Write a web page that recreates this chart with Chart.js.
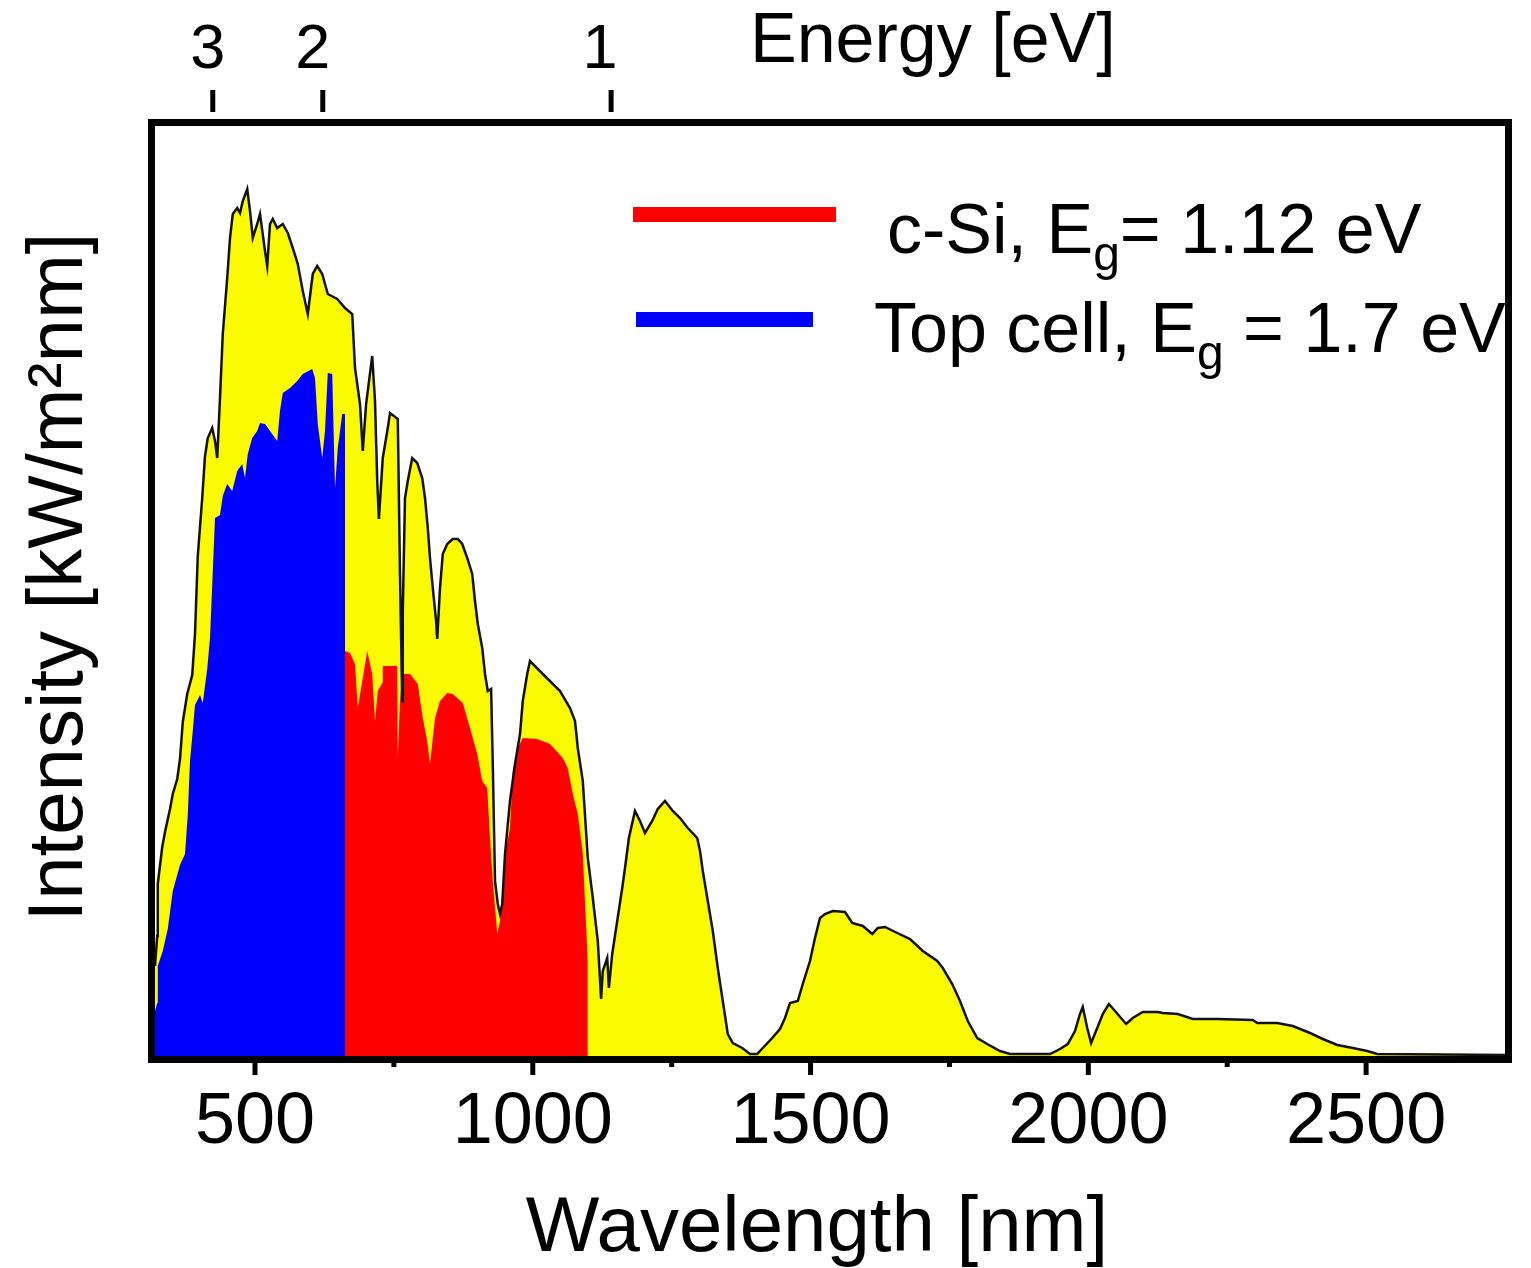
<!DOCTYPE html>
<html lang="en">
<head>
  <meta charset="UTF-8" />
  <title>Solar spectrum: c-Si and top cell</title>
  <script src="https://cdn.jsdelivr.net/npm/chart.js"></script>
  <style>
    body { margin: 0; background: #fff; }
    #wrap { position: relative; width: 1531px; height: 1268px; font-family: 'Liberation Sans', Arial, sans-serif; }
    .key { position: absolute; height: 15px; }
    .lbl { position: absolute; font-size: 70px; line-height: 1; color: #000; white-space: nowrap; }
    .lbl sub { font-size: 48px; vertical-align: -17px; line-height: 0; }
  </style>
</head>
<body>
  <div id="wrap">
    <canvas id="chart" width="1531" height="1268"></canvas>
    <div class="key" style="left:633px; top:207px; width:203px; background:#ff0000;"></div>
    <div class="lbl" style="left:887px; top:194px;">c-Si, E<sub>g</sub>= 1.12 eV</div>
    <div class="key" style="left:636px; top:312px; width:177px; background:#0000ff;"></div>
    <div class="lbl" style="left:874px; top:293px;">Top cell, E<sub>g</sub> = 1.7 eV</div>
  </div>

  <script>
    // full spectrum (yellow), wavelength in nm
    const yellowNm = [320, 324, 325, 333, 338, 347, 352, 360, 365,
      370, 378, 387, 392, 397, 405, 410, 415, 423, 428,
      432, 437, 442, 450, 455, 460, 468, 473, 478, 486,
      491, 496, 504, 509, 518, 522, 527, 532, 540, 550,
      559, 568, 577, 586, 595, 604, 612, 621, 631, 648,
      662, 675, 680, 689, 694, 700, 711, 716, 720, 723,
      730, 739, 743, 757, 761, 765, 766, 770, 775, 783,
      792, 801, 806, 811, 815, 820, 826, 828, 833, 838,
      846, 856, 865, 873, 882, 891, 896, 901, 909, 914,
      919, 925, 928, 932, 937, 941, 945, 950, 959, 968,
      977, 982, 990, 995, 1018, 1049, 1067, 1076, 1081, 1090,
      1099, 1108, 1117, 1123, 1126, 1134, 1137, 1143, 1152, 1161,
      1166, 1173, 1184, 1193, 1202, 1215, 1225, 1238, 1252, 1265,
      1279, 1296, 1301, 1306, 1315, 1324, 1333, 1342, 1351, 1360,
      1377, 1391, 1404, 1414, 1431, 1445, 1454, 1463, 1477, 1486,
      1499, 1508, 1517, 1526, 1540, 1562, 1575, 1594, 1611, 1621,
      1634, 1656, 1679, 1702, 1728, 1738, 1755, 1769, 1783, 1800,
      1818, 1841, 1859, 1931, 1949, 1963, 1976, 1985, 1990, 1998,
      2005, 2016, 2026, 2037, 2048, 2068, 2080, 2098, 2125, 2134,
      2161, 2188, 2232, 2296, 2304, 2340, 2368, 2399, 2422, 2448,
      2476, 2502, 2520, 2750];
    const yellowVal = [0.18, 0.24, 0.344, 0.418, 0.448, 0.494, 0.524, 0.554, 0.594,
      0.668, 0.724, 0.762, 0.844, 1.0, 1.116, 1.2, 1.236, 1.256, 1.23,
      1.196, 1.316, 1.444, 1.556, 1.636, 1.684, 1.696, 1.686, 1.71, 1.734,
      1.69, 1.636, 1.664, 1.684, 1.61, 1.58, 1.664, 1.674, 1.656, 1.664,
      1.646, 1.616, 1.584, 1.53, 1.484, 1.564, 1.58, 1.564, 1.524, 1.514,
      1.496, 1.484, 1.376, 1.304, 1.21, 1.304, 1.4, 1.31, 1.15, 1.074,
      1.196, 1.256, 1.286, 1.274, 0.964, 0.71, 0.89, 1.116, 1.15, 1.196,
      1.186, 1.156, 1.116, 1.056, 0.996, 0.936, 0.87, 0.834, 0.936, 1.004,
      1.024, 1.034, 1.034, 1.024, 0.996, 0.964, 0.91, 0.864, 0.816, 0.764,
      0.73, 0.734, 0.584, 0.35, 0.304, 0.284, 0.304, 0.404, 0.51, 0.584,
      0.644, 0.71, 0.764, 0.79, 0.764, 0.73, 0.696, 0.67, 0.616, 0.55,
      0.396, 0.316, 0.23, 0.114, 0.17, 0.196, 0.136, 0.204, 0.27, 0.336,
      0.376, 0.436, 0.49, 0.47, 0.446, 0.47, 0.494, 0.51, 0.49, 0.476,
      0.456, 0.436, 0.41, 0.37, 0.31, 0.25, 0.176, 0.11, 0.044, 0.026,
      0.016, 0.004, 0.004, 0.016, 0.036, 0.054, 0.076, 0.106, 0.11, 0.144,
      0.19, 0.236, 0.276, 0.284, 0.29, 0.288, 0.266, 0.26, 0.244, 0.256,
      0.258, 0.246, 0.234, 0.21, 0.19, 0.176, 0.144, 0.11, 0.07, 0.036,
      0.024, 0.01, 0.004, 0.004, 0.014, 0.024, 0.05, 0.084, 0.098, 0.056,
      0.026, 0.056, 0.084, 0.104, 0.09, 0.064, 0.076, 0.088, 0.088, 0.086,
      0.084, 0.074, 0.074, 0.072, 0.066, 0.066, 0.06, 0.046, 0.034, 0.022,
      0.016, 0.01, 0.004, 0.002];

    // part used by the top cell (blue)
    const blueNm = [320, 324, 325, 334, 343, 352, 365, 374, 379,
      383, 388, 392, 401, 406, 414, 419, 423, 428, 437,
      442, 450, 459, 468, 477, 482, 487, 495, 504, 509,
      518, 531, 540, 545, 550, 563, 576, 586, 603, 608,
      613, 621, 626, 631, 639, 644, 649, 657, 662];
    const blueVal = [0.09, 0.106, 0.18, 0.21, 0.254, 0.33, 0.382, 0.404, 0.482,
      0.59, 0.65, 0.702, 0.722, 0.706, 0.774, 0.836, 0.942, 1.076, 1.082,
      1.12, 1.144, 1.13, 1.17, 1.184, 1.156, 1.204, 1.236, 1.25, 1.266,
      1.264, 1.244, 1.23, 1.29, 1.326, 1.336, 1.35, 1.364, 1.374, 1.356,
      1.264, 1.196, 1.25, 1.366, 1.364, 1.136, 1.216, 1.284, 1.284];

    // part used by c-Si (red)
    const redNm = [662, 671, 680, 685, 693, 702, 711, 716, 721, 729,
      730, 756, 757, 761, 765, 779, 793, 802, 810, 815,
      824, 833, 846, 856, 874, 887, 900, 909, 918, 923,
      928, 936, 941, 950, 959, 964, 973, 982, 1008, 1031,
      1054, 1063, 1072, 1081, 1090, 1099];
    const redVal = [0.81, 0.806, 0.784, 0.696, 0.75, 0.81, 0.764, 0.67, 0.73, 0.746,
      0.78, 0.78, 0.596, 0.71, 0.764, 0.764, 0.744, 0.676, 0.63, 0.584,
      0.676, 0.71, 0.726, 0.724, 0.706, 0.656, 0.604, 0.55, 0.536, 0.436,
      0.35, 0.244, 0.27, 0.404, 0.456, 0.57, 0.616, 0.636, 0.634, 0.624,
      0.596, 0.576, 0.524, 0.484, 0.404, 0.19];

    const wlTicks = [500, 1000, 1500, 2000, 2500];
    const wlMinorTicks = [750, 1250, 1750, 2250];
    // energy axis as drawn in the original figure: tick marks and their labels
    const energyLabels = ['3', '2', '1'];
    const energyTickNm = [424, 622, 1141];
    const energyLabelNm = [415, 604, 1121];

    const FONT = "'Liberation Sans', Arial, sans-serif";
    const pts = (xs, ys) => xs.map((x, i) => ({ x: x, y: ys[i] }));

    const frame = {
      id: 'frame',
      afterDraw(chart) {
        const { ctx, chartArea: a, scales } = chart;
        ctx.save();
        ctx.strokeStyle = '#000';
        ctx.lineWidth = 7;
        ctx.strokeRect(a.left - 3.5, a.top - 3.5, a.right - a.left + 7, a.bottom - a.top + 7);

        ctx.lineWidth = 5;
        wlTicks.concat(wlMinorTicks).forEach(v => {
          const x = scales.x.getPixelForValue(v);
          const len = wlTicks.includes(v) ? 19 : 11;
          ctx.beginPath();
          ctx.moveTo(x, a.bottom + 6);
          ctx.lineTo(x, a.bottom + len);
          ctx.stroke();
        });

        energyTickNm.forEach(v => {
          const x = scales.x2.getPixelForValue(v);
          ctx.beginPath();
          ctx.moveTo(x, 90);
          ctx.lineTo(x, 112);
          ctx.stroke();
        });

        ctx.fillStyle = '#000';
        ctx.textBaseline = 'alphabetic';
        ctx.font = '70px ' + FONT;
        ctx.textAlign = 'left';
        ctx.fillText('Energy [eV]', 750, 62);

        ctx.font = '78px ' + FONT;
        ctx.textAlign = 'center';
        ctx.fillText('Wavelength [nm]', 817, 1251);

        ctx.translate(82, 577);
        ctx.rotate(-Math.PI / 2);
        ctx.fillText('Intensity [kW/m²nm]', 0, 0);
        ctx.restore();
      }
    };

    new Chart(document.getElementById('chart'), {
      type: 'line',
      data: {
        datasets: [
          {
            label: 'Top cell, Eg = 1.7 eV',
            data: pts(blueNm, blueVal),
            borderColor: 'rgba(0,0,0,0)',
            borderWidth: 0,
            backgroundColor: '#0000ff',
            fill: 'origin',
            pointRadius: 0,
            tension: 0
          },
          {
            label: 'c-Si, Eg = 1.12 eV',
            data: pts(redNm, redVal),
            borderColor: 'rgba(0,0,0,0)',
            borderWidth: 0,
            backgroundColor: '#ff0000',
            fill: 'origin',
            pointRadius: 0,
            tension: 0
          },
          {
            label: 'AM1.5 spectrum',
            data: pts(yellowNm, yellowVal),
            borderColor: '#111',
            borderWidth: 2.5,
            backgroundColor: '#fafa00',
            fill: 'origin',
            pointRadius: 0,
            tension: 0
          }
        ]
      },
      options: {
        responsive: false,
        animation: false,
        devicePixelRatio: 1,
        layout: { padding: { left: 0, right: 26, top: 0, bottom: 0 } },
        plugins: {
          legend: { display: false },
          tooltip: { enabled: false },
          filler: { drawTime: 'beforeDatasetsDraw' }
        },
        scales: {
          x: {
            type: 'linear',
            position: 'bottom',
            min: 320,
            max: 2750,
            afterBuildTicks: s => { s.ticks = wlTicks.map(v => ({ value: v })); },
            afterFit: s => { s.height = 212; },
            ticks: { callback: v => String(v), font: { size: 72, family: FONT }, color: '#000', padding: 24, maxRotation: 0, autoSkip: false },
            grid: { display: false, drawTicks: false },
            border: { display: false }
          },
          x2: {
            type: 'linear',
            position: 'top',
            min: 320,
            max: 2750,
            afterBuildTicks: s => { s.ticks = energyLabelNm.map(v => ({ value: v })); },
            afterFit: s => { s.height = 126; },
            ticks: { callback: (v, i) => energyLabels[i], font: { size: 63, family: FONT }, color: '#000', padding: 38, maxRotation: 0, autoSkip: false },
            grid: { display: false, drawTicks: false },
            border: { display: false }
          },
          y: {
            position: 'left',
            min: 0,
            max: 1.86,
            afterFit: s => { s.width = 155; },
            ticks: { display: false },
            grid: { display: false, drawTicks: false },
            border: { display: false }
          }
        }
      },
      plugins: [frame]
    });
  </script>
</body>
</html>
